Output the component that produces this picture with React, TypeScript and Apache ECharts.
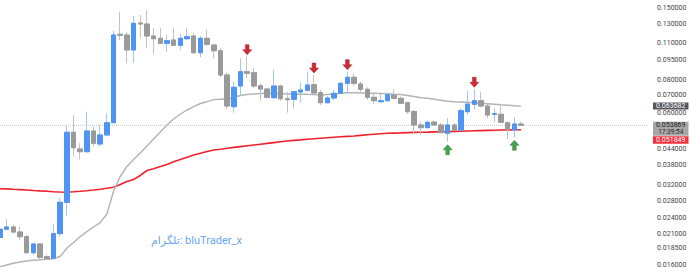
import React, { useEffect, useRef } from "react";
import * as echarts from "echarts";

// OHLC (price, log scale)
const opens = [
  0.02034, 0.02183, 0.02227, 0.02132, 0.02047, 0.01781, 0.01921, 0.0172, 0.01696, 0.02101,
  0.0276, 0.05071, 0.04385, 0.04284, 0.05128, 0.04581, 0.04953, 0.05512, 0.11886, 0.11812,
  0.10367, 0.13109, 0.12996, 0.1171, 0.11477, 0.10989, 0.11309, 0.108, 0.11437, 0.1171,
  0.10127, 0.11477, 0.10828, 0.10304, 0.08343, 0.06334, 0.07583, 0.08585, 0.08511, 0.07603,
  0.07387, 0.06849, 0.07583, 0.0679, 0.06754, 0.07197, 0.07304, 0.07669, 0.07153, 0.06558,
  0.06831, 0.07116, 0.07763, 0.08178, 0.07716, 0.07368, 0.06873, 0.06615, 0.06673, 0.07012,
  0.06813, 0.06558, 0.0608, 0.05403, 0.05278, 0.05542, 0.05403, 0.05027, 0.05403, 0.05173,
  0.06064, 0.06468, 0.06673, 0.06373, 0.0593, 0.0593, 0.05512, 0.05173, 0.0545,
];
const closes = [
  0.02183, 0.02227, 0.02132, 0.02047, 0.01781, 0.01921, 0.01711, 0.0169, 0.02101, 0.0276,
  0.05071, 0.04435, 0.04284, 0.05128, 0.04609, 0.04953, 0.05512, 0.11812, 0.11781, 0.10367,
  0.13075, 0.12996, 0.1171, 0.11437, 0.10989, 0.1124, 0.108, 0.11477, 0.11638, 0.10127,
  0.11477, 0.10896, 0.10304, 0.08343, 0.06373, 0.07498, 0.08585, 0.08468, 0.07583, 0.07387,
  0.06873, 0.07583, 0.0679, 0.06731, 0.07215, 0.07323, 0.07649, 0.07135, 0.06558, 0.06831,
  0.07116, 0.07763, 0.08178, 0.07763, 0.07368, 0.06873, 0.06673, 0.06673, 0.0703, 0.06813,
  0.06524, 0.06064, 0.05403, 0.05278, 0.05531, 0.05403, 0.05053, 0.05403, 0.05173, 0.06117,
  0.06484, 0.06673, 0.06373, 0.05893, 0.0596, 0.05531, 0.05205, 0.0545, 0.053869,
];
const lows = [
  0.02007, 0.02169, 0.02104, 0.01989, 0.01761, 0.01741, 0.01681, 0.01681, 0.01681, 0.02047,
  0.0245, 0.04102, 0.0401, 0.04255, 0.04475, 0.04475, 0.04881, 0.05484, 0.11309, 0.09236,
  0.09284, 0.11477, 0.10521, 0.10013, 0.10922, 0.10215, 0.10734, 0.10367, 0.11309, 0.10013,
  0.0973, 0.10734, 0.09646, 0.08201, 0.06192, 0.06012, 0.07012, 0.08107, 0.07447, 0.06673,
  0.06813, 0.06813, 0.06655, 0.06012, 0.06225, 0.06558, 0.07215, 0.07098, 0.06428, 0.06524,
  0.06714, 0.07073, 0.07116, 0.07583, 0.07215, 0.06714, 0.06484, 0.06558, 0.06615, 0.06754,
  0.06484, 0.05945, 0.05027, 0.04953, 0.05251, 0.05395, 0.05027, 0.04673, 0.0516, 0.0516,
  0.05893, 0.06192, 0.06301, 0.05727, 0.0556, 0.05484, 0.04772, 0.04856, 0.05365,
];
const highs = [
  0.02227, 0.02381, 0.02265, 0.02232, 0.02077, 0.01933, 0.01928, 0.0175, 0.02285, 0.02857,
  0.05403, 0.05893, 0.04609, 0.06064, 0.05324, 0.05403, 0.05981, 0.12261, 0.14462, 0.12155,
  0.13932, 0.14054, 0.14678, 0.1252, 0.1252, 0.11812, 0.1252, 0.11915, 0.1252, 0.11988,
  0.1171, 0.12336, 0.10922, 0.10549, 0.08511, 0.07871, 0.09646, 0.09781, 0.08866, 0.07763,
  0.07452, 0.08714, 0.07648, 0.07215, 0.0725, 0.07851, 0.08585, 0.08343, 0.07323, 0.06951,
  0.07323, 0.07871, 0.08585, 0.08416, 0.07871, 0.07498, 0.07116, 0.07073, 0.07153, 0.07368,
  0.0691, 0.06615, 0.06155, 0.0556, 0.05609, 0.0562, 0.05484, 0.05727, 0.05484, 0.06246,
  0.07279, 0.07368, 0.07215, 0.06524, 0.06246, 0.06468, 0.0556, 0.05777, 0.0556,
];
// moving averages
const maGray = [
  0.01577, 0.016004, 0.016243, 0.016427, 0.016569, 0.016671, 0.016758, 0.016816, 0.016905, 0.017231,
  0.018504, 0.019461, 0.020485, 0.021393, 0.022267, 0.023114, 0.02493, 0.030443, 0.034534, 0.037702,
  0.040031, 0.042358, 0.045016, 0.047838, 0.050839, 0.054028, 0.056919, 0.059447, 0.06155, 0.063341,
  0.065127, 0.06615, 0.06737, 0.067546, 0.067546, 0.068733, 0.069816, 0.070426, 0.070733, 0.07104,
  0.071165, 0.071165, 0.07104, 0.070733, 0.070733, 0.07061, 0.070548, 0.070365, 0.07012, 0.070426,
  0.070733, 0.071227, 0.071534, 0.071472, 0.071349, 0.071165, 0.071165, 0.07104, 0.070855, 0.070548,
  0.070426, 0.069816, 0.069212, 0.068493, 0.068136, 0.067546, 0.06696, 0.066385, 0.06615, 0.065981,
  0.065809, 0.065579, 0.065298, 0.065014, 0.064732, 0.064396, 0.064117, 0.063839, 0.063682,
];
const maRed = [
  0.03106, 0.031, 0.0309, 0.03082, 0.03071, 0.03058, 0.03047, 0.03037, 0.03026, 0.03018,
  0.03013, 0.03023, 0.03037, 0.03052, 0.03071, 0.03092, 0.03117, 0.03147, 0.03222, 0.03307,
  0.03365, 0.03484, 0.03638, 0.03692, 0.03767, 0.03833, 0.03924, 0.04003, 0.04084, 0.04163,
  0.04225, 0.04288, 0.04348, 0.04378, 0.04412, 0.04447, 0.04478, 0.04509, 0.04541, 0.04573,
  0.04604, 0.04637, 0.04669, 0.04701, 0.04726, 0.04747, 0.04771, 0.04792, 0.04813, 0.04834,
  0.04855, 0.04876, 0.04893, 0.0491, 0.04936, 0.04962, 0.04988, 0.05009, 0.05027, 0.05036,
  0.05044, 0.05058, 0.05066, 0.05071, 0.05079, 0.05088, 0.05093, 0.05101, 0.0511, 0.05119,
  0.05128, 0.05137, 0.05146, 0.05155, 0.05164, 0.05173, 0.05178, 0.05182, 0.051849,
];
const slotCount = 98; // visible bar slots incl. empty future space
const categories = Array.from({ length: slotCount }, (_, i) => String(i + 1));
const sellSignals = [37, 47, 52, 71];
const buySignals = [67, 77];
const yTicks = [0.15, 0.13, 0.11, 0.095, 0.08, 0.07, 0.06, 0.044, 0.038, 0.032, 0.028, 0.024, 0.021, 0.0185, 0.016];
const yMin = 0.014798;
const yMax = 0.16011;
const countdown = "17:39:54";
const watermark = "تلگرام: bluTrader_x";

const BLUE = "#4f94f2";
const GRAY = "#9a9a9a";
const BLUE_WICK = "#a3c6f7";
const GRAY_WICK = "#c2c2c2";
const FONT = "Roboto, 'DejaVu Sans', sans-serif";

export default function App() {
  const ref = useRef<HTMLDivElement>(null);
  useEffect(() => {
    const chart = echarts.init(ref.current!, null, { renderer: "svg" });
    const candles = opens.map((o, i) => [o, closes[i], lows[i], highs[i]]);
    const bodies = opens.map((o, i) => [o, closes[i], Math.min(o, closes[i]), Math.max(o, closes[i])]);
    const lastClose = closes[closes.length - 1];
    const lastGray = maGray[maGray.length - 1];
    const lastRed = maRed[maRed.length - 1];

    chart.setOption({
      animation: false,
      backgroundColor: "#ffffff",
      grid: { left: 0, right: 42, top: 0, bottom: 0, containLabel: false, outerBoundsMode: "none" },
      xAxis: {
        type: "category",
        data: categories,
        boundaryGap: false,
        show: false,
      },
      yAxis: {
        type: "log",
        logBase: 10,
        min: yMin,
        max: yMax,
        position: "right",
        axisLine: { show: false },
        axisTick: { show: false },
        splitLine: { show: false },
        axisLabel: {
          customValues: yTicks,
          formatter: (v: number) => Number(v).toFixed(6),
          fontSize: 7,
          color: "#444",
          fontFamily: FONT,
          margin: 9,
        },
      },
      series: [
        {
          type: "line",
          data: [
            [categories[0], lastClose],
            [categories[slotCount - 1], lastClose],
          ],
          symbol: "none",
          silent: true,
          lineStyle: { color: "#c9c9c9", type: "dotted", width: 1 },
          z: 1,
        },
        {
          type: "line",
          data: maRed,
          symbol: "none",
          lineStyle: { color: "#f0212e", width: 1.6 },
          z: 2,
        },
        {
          type: "line",
          data: maGray,
          symbol: "none",
          lineStyle: { color: "#b3b3b3", width: 1.4 },
          z: 2,
        },
        {
          type: "candlestick",
          data: candles,
          barWidth: 5,
          itemStyle: { color: BLUE, color0: GRAY, borderColor: BLUE_WICK, borderColor0: GRAY_WICK, borderWidth: 1 },
          z: 3,
        },
        {
          type: "candlestick",
          data: bodies,
          barWidth: 5,
          itemStyle: { color: BLUE, color0: GRAY, borderColor: BLUE, borderColor0: GRAY, borderWidth: 1 },
          z: 4,
        },
        {
          type: "scatter",
          data: sellSignals.map((i) => [i, highs[i]]),
          symbol: "path://M3,0 L7,0 L7,5 L10,5 L5,10 L0,5 L3,5 Z",
          symbolSize: [9, 10],
          symbolOffset: [0, -7],
          itemStyle: { color: "#cf2a35", borderColor: "#9e1b24", borderWidth: 0.5, opacity: 1 },
          z: 5,
        },
        {
          type: "scatter",
          data: buySignals.map((i) => [i, lows[i]]),
          symbol: "path://M5,0 L10,5 L7,5 L7,10 L3,10 L3,5 L0,5 Z",
          symbolSize: [9, 10],
          symbolOffset: [0, 8],
          itemStyle: { color: "#46a34e", borderColor: "#2f7d37", borderWidth: 0.5, opacity: 1 },
          z: 5,
        },
      ],
    });

    const yOf = (v: number) => chart.convertToPixel({ yAxisIndex: 0 }, v) as unknown as number;
    const bx = 653;
    const bw = 35.5;
    const lh = 7;
    const grayC = yOf(lastGray);
    const priceTop = yOf(lastClose) - lh / 2;
    const priceBottom = priceTop + 2 * lh;
    const redTop = Math.max(yOf(lastRed) - lh / 2, priceBottom + 0.5);
    const txt = (x: number, y: number, text: string, fill: string, size = 7) => ({
      type: "text",
      x,
      y,
      z: 100,
      style: { text, fill, fontSize: size, fontFamily: FONT, align: "center", verticalAlign: "middle", textAlign: "center", textVerticalAlign: "middle" },
    });
    chart.setOption({
      graphic: [
        { type: "rect", z: 99, shape: { x: bx, y: grayC - lh / 2, width: bw, height: lh }, style: { fill: "#55585e" } },
        txt(bx + bw / 2, grayC, lastGray.toFixed(6), "#ffffff"),
        { type: "rect", z: 99, shape: { x: bx, y: priceTop, width: bw, height: 2 * lh }, style: { fill: "#a7a7a7" } },
        txt(bx + bw / 2, priceTop + lh / 2, lastClose.toFixed(6), "#1c1c1c"),
        txt(bx + bw / 2, priceTop + lh * 1.5, countdown, "#2a2a2a", 6.5),
        { type: "rect", z: 99, shape: { x: bx, y: redTop, width: bw, height: lh + 0.5 }, style: { fill: "#f5303e" } },
        txt(bx + bw / 2, redTop + (lh + 0.5) / 2, lastRed.toFixed(6), "#ffffff"),
        {
          type: "text",
          x: 151,
          y: 240,
          z: 100,
          style: { text: watermark, fill: "#6aa6f2", fontSize: 11, fontFamily: FONT, verticalAlign: "middle", textVerticalAlign: "middle" },
        },
      ],
    });

    return () => chart.dispose();
  }, []);
  return (
    <div
      ref={ref}
      style={{ position: "absolute", left: 0, top: 0, width: 690, height: 274, background: "#fff" }}
    />
  );
}
